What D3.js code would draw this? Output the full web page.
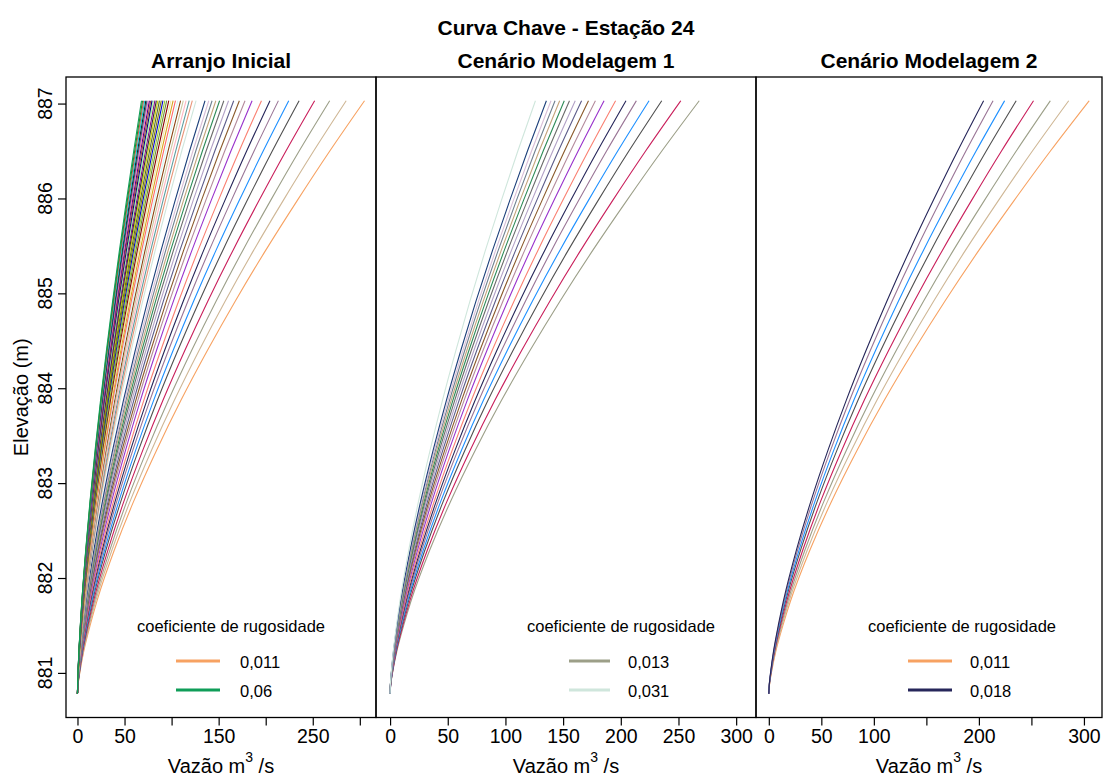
<!DOCTYPE html>
<html>
<head>
<meta charset="utf-8">
<script src="https://cdn.jsdelivr.net/npm/d3@7"></script>
<style>
  body { margin: 0; background: #ffffff; }
  text { font-family: Arial, "Liberation Sans", sans-serif; fill: #000; }
</style>
</head>
<body>
<svg id="chart" width="1103" height="778"></svg>
<script>
// Manning roughness coefficients (one rating curve per value)
const roughness = [
  0.011, 0.012, 0.013, 0.014, 0.015, 0.016, 0.017, 0.018, 0.019, 0.020,
  0.021, 0.022, 0.023, 0.024, 0.025, 0.026, 0.027, 0.028, 0.029, 0.030,
  0.031, 0.032, 0.033, 0.034, 0.035, 0.036, 0.037, 0.038, 0.039, 0.040,
  0.041, 0.042, 0.043, 0.044, 0.045, 0.046, 0.047, 0.048, 0.049, 0.050,
  0.051, 0.052, 0.053, 0.054, 0.055, 0.056, 0.057, 0.058, 0.059, 0.060
];

// Discharge (m3/s) reached at the top stage for each roughness value
const topDischarge = [
  305.0, 285.5, 268.0, 252.0, 235.5, 224.5, 213.5, 204.5, 195.5, 185.5,
  178.0, 172.0, 166.0, 160.5, 155.5, 151.0, 147.0, 143.0, 139.5, 135.5,
  126.0, 122.0, 118.7, 115.4, 112.4, 109.5, 106.7, 104.1, 101.6, 99.3,
  97.0, 94.8, 92.8, 90.8, 89.0, 87.1, 85.4, 83.8, 82.2, 80.7,
  79.2, 77.8, 76.4, 75.1, 73.8, 72.6, 71.4, 70.2, 69.1, 68.0
];

// Line colour of each roughness value
const curveColors = [
  "#f7a262", "#cfb796", "#9c9f88", "#c91f5b", "#505050", "#1e90ff", "#9a7596", "#26265a", "#fa8072", "#9932cc",
  "#b48b9c", "#8b5a2b", "#5c5c8a", "#b3a2c7", "#6b6b6b", "#2e8b57", "#c4a47c", "#708090", "#d8bfd8", "#1c3f7a",
  "#cfe6dc", "#e9967a", "#5f9ea0", "#ffb6c1", "#cdc9a5", "#8b4513", "#d4f5f5", "#ff6a6a", "#daa520", "#eee8aa",
  "#8b0000", "#6e8b3d", "#9acd32", "#0000cd", "#808000", "#556b2f", "#cdcd00", "#2f2f2f", "#8b008b", "#98fb98",
  "#000080", "#a0522d", "#4b0082", "#ff69b4", "#36648b", "#1a1a1a", "#00ced1", "#cd5c5c", "#228b22", "#0f9d58"
];

// Water surface elevation (m) and the share of the top discharge at each stage
const stage = [880.78, 880.90, 881.00, 881.23, 881.50, 881.76, 882.30, 882.81,
               883.35, 883.87, 884.40, 884.92, 885.45, 885.98, 886.50, 887.03];
const stageShare = [0, 0.003, 0.008, 0.022, 0.044, 0.068, 0.129, 0.196,
                    0.276, 0.360, 0.453, 0.550, 0.655, 0.766, 0.879, 1.0];

// Panels: title and roughness interval shown
const panelTitles = ["Arranjo Inicial", "Cenário Modelagem 1", "Cenário Modelagem 2"];
const panelRoughness = [[0.011, 0.060], [0.013, 0.031], [0.011, 0.018]];

// Axis ticks
const dischargeTicks = [0, 50, 100, 150, 200, 250, 300];
const dischargeTickLabels = [
  [0, 50, 150, 250],
  [0, 50, 100, 150, 200, 250, 300],
  [0, 50, 100, 200, 300]
];
const elevationTicks = [881, 882, 883, 884, 885, 886, 887];

const dischargeLimits = [0, 305];
const elevationLimits = [880.78, 887.03];

const mainTitle = "Curva Chave - Estação 24";
const legendTitle = "coeficiente de rugosidade";
const yTitle = "Elevação (m)";

// ---------------------------------------------------------------- layout
const svg = d3.select("#chart");
const frameTop = 77, frameBottom = 717.5;
const panelBounds = [[66, 376], [376, 756], [756, 1102]];
const legendLayout = [
  { title: 231, x0: 176, x1: 220, label: 240 },
  { title: 621, x0: 569, x1: 610, label: 628 },
  { title: 962, x0: 908, x1: 952, label: 970 }
];
const pad = (lim) => { const d = (lim[1] - lim[0]) * 0.04; return [lim[0] - d, lim[1] + d]; };
const fmtComma = (v) => String(+v.toFixed(3)).replace(".", ",");

const y = d3.scaleLinear().domain(pad(elevationLimits)).range([frameBottom, frameTop]);

svg.append("text")
  .attr("x", 566).attr("y", 35)
  .attr("text-anchor", "middle")
  .style("font-size", "21px").style("font-weight", "bold")
  .text(mainTitle);

const curves = roughness.map((n, i) => ({
  n, color: curveColors[i],
  points: stage.map((h, k) => ({ h, q: stageShare[k] * topDischarge[i] }))
}));

panelBounds.forEach((b, p) => {
  const x = d3.scaleLinear().domain(pad(dischargeLimits)).range([b[0], b[1]]);
  const g = svg.append("g");
  const cx = (b[0] + b[1]) / 2;

  g.append("text")
    .attr("x", cx).attr("y", 68)
    .attr("text-anchor", "middle")
    .style("font-size", "21px").style("font-weight", "bold")
    .text(panelTitles[p]);

  const [nLo, nHi] = panelRoughness[p];
  const shown = curves.filter(c => c.n >= nLo - 1e-9 && c.n <= nHi + 1e-9);

  const line = d3.line()
    .x(d => x(d.q)).y(d => y(d.h))
    .curve(d3.curveMonotoneY);

  g.append("g").selectAll("path")
    .data(shown)
    .join("path")
    .attr("d", c => line(c.points))
    .attr("fill", "none")
    .attr("stroke", c => c.color)
    .attr("stroke-width", 1.1);

  // frame
  g.append("rect")
    .attr("x", b[0]).attr("y", frameTop)
    .attr("width", b[1] - b[0]).attr("height", frameBottom - frameTop)
    .attr("fill", "none").attr("stroke", "#000").attr("stroke-width", 1.3);

  // x axis
  const xAxis = d3.axisBottom(x)
    .tickValues(dischargeTicks)
    .tickSize(8)
    .tickPadding(5)
    .tickFormat(v => dischargeTickLabels[p].includes(v) ? String(v) : "");
  const ax = g.append("g").attr("transform", `translate(0,${frameBottom})`).call(xAxis);
  ax.select(".domain").remove();
  ax.selectAll(".tick line").attr("stroke", "#000").attr("stroke-width", 1.2);
  ax.selectAll(".tick text")
    .style("font-size", "19.5px").style("font-family", "Arial, 'Liberation Sans', sans-serif")
    .attr("fill", "#000").attr("dy", "0.71em").attr("y", 12);

  const xl = g.append("text")
    .attr("x", cx).attr("y", 773)
    .attr("text-anchor", "middle")
    .style("font-size", "20px");
  xl.append("tspan").text("Vazão m");
  xl.append("tspan").attr("dy", -11).style("font-size", "14px").text("3");
  xl.append("tspan").attr("dy", 11).text(" /s");

  // legend
  const L = legendLayout[p];
  g.append("text")
    .attr("x", L.title).attr("y", 632)
    .attr("text-anchor", "middle")
    .style("font-size", "16.5px")
    .text(legendTitle);
  const ends = [curves.find(c => Math.abs(c.n - nLo) < 1e-9), curves.find(c => Math.abs(c.n - nHi) < 1e-9)];
  ends.forEach((c, k) => {
    const ly = 661 + k * 29;
    g.append("line")
      .attr("x1", L.x0).attr("x2", L.x1)
      .attr("y1", ly).attr("y2", ly)
      .attr("stroke", c.color).attr("stroke-width", 3);
    g.append("text")
      .attr("x", L.label).attr("y", ly + 7)
      .style("font-size", "16.5px")
      .text(fmtComma(c.n));
  });

  // y axis on the first panel only
  if (p === 0) {
    const yAxis = d3.axisLeft(y).tickValues(elevationTicks).tickSize(8).tickFormat("");
    const ay = g.append("g").attr("transform", `translate(${b[0]},0)`).call(yAxis);
    ay.select(".domain").remove();
    ay.selectAll(".tick line").attr("stroke", "#000").attr("stroke-width", 1.2);
    g.append("g").selectAll("text")
      .data(elevationTicks)
      .join("text")
      .attr("transform", d => `translate(52,${y(d)}) rotate(-90)`)
      .attr("text-anchor", "middle")
      .style("font-size", "19.5px")
      .text(d => d);
    g.append("text")
      .attr("transform", `translate(28,${(frameTop + frameBottom) / 2}) rotate(-90)`)
      .attr("text-anchor", "middle")
      .style("font-size", "20px")
      .text(yTitle);
  }
});
</script>
</body>
</html>
